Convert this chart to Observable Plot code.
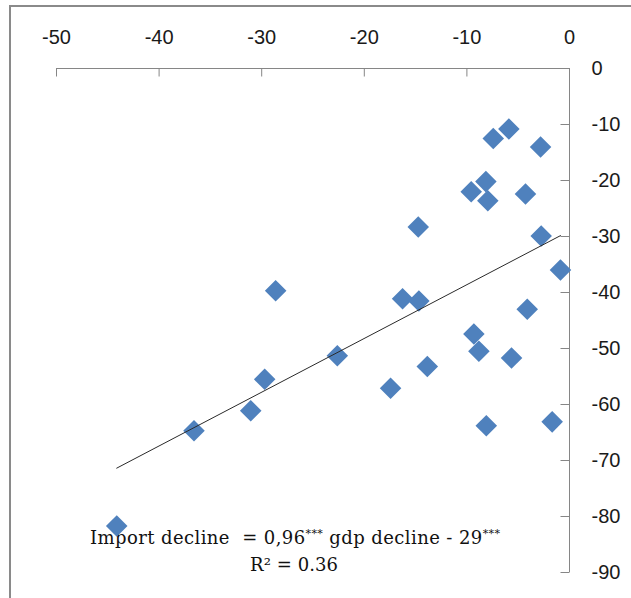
<!DOCTYPE html>
<html>
<head>
<meta charset="utf-8">
<script src="https://cdn.jsdelivr.net/npm/d3@7"></script>
<script src="https://cdn.jsdelivr.net/npm/@observablehq/plot@0.6"></script>
<style>
  html, body { margin: 0; padding: 0; background: #fff; }
  svg { display: block; }
</style>
</head>
<body>
<div id="chart"></div>
<script>
// ---- data ----
const gdpDecline = [-5.91, -7.43, -2.82, -8.15, -9.58, -7.96, -4.29, -14.74, -2.76, -0.88,
  -16.27, -14.68, -4.12, -9.32, -8.83, -5.65, -13.86, -17.44, -28.64, -22.63,
  -29.71, -31.07, -36.6, -44.13, -8.11, -1.69];
const importDecline = [-10.8, -12.5, -14.0, -20.2, -22.0, -23.6, -22.4, -28.3, -29.9, -36.0,
  -41.1, -41.5, -43.0, -47.4, -50.5, -51.7, -53.2, -57.1, -39.7, -51.3,
  -55.5, -61.1, -64.7, -81.7, -63.8, -63.1];
const xTicks = [-50, -40, -30, -20, -10, 0];
const yTicks = [0, -10, -20, -30, -40, -50, -60, -70, -80, -90];
const slope = 0.96;
const intercept = -29;
const eqParts = ["Import decline  = 0,96", "***", " gdp decline - 29", "***"];
const r2Text = "R\u00B2 = 0.36";

// ---- derived tables ----
const points = gdpDecline.map((x, i) => ({x, y: importDecline[i]}));
const xExt = d3.extent(gdpDecline);
const trend = xExt.map(x => ({x, y: slope * x + intercept}));

const axisColor = "#868686";
const labelFont = "'Liberation Sans', Arial, sans-serif";
const tickShape = {draw(context, l) { context.moveTo(0, 0); context.lineTo(0, -l); }};

const plot = Plot.plot({
  width: 631,
  height: 598,
  marginLeft: 56,
  marginRight: 62,
  marginTop: 68,
  marginBottom: 26,
  x: {domain: [xTicks[0], xTicks[xTicks.length - 1]], axis: null},
  y: {domain: [yTicks[yTicks.length - 1], yTicks[0]], axis: null},
  style: {background: "white", overflow: "visible"},
  marks: [
    Plot.ruleY([yTicks[0]], {x1: xTicks[0], x2: xTicks[xTicks.length - 1], stroke: axisColor, strokeWidth: 1}),
    Plot.ruleX([xTicks[xTicks.length - 1]], {y1: yTicks[yTicks.length - 1], y2: yTicks[0], stroke: axisColor, strokeWidth: 1}),
    Plot.vector(xTicks.filter(d => d < 0), {x: d => d, y: yTicks[0], length: 8, rotate: 180, anchor: "start",
      shape: tickShape, stroke: axisColor, strokeWidth: 1, strokeLinecap: "butt"}),
    Plot.vector(yTicks.filter(d => d < 0), {x: xTicks[xTicks.length - 1], y: d => d, length: 9, rotate: 270, anchor: "start",
      shape: tickShape, stroke: axisColor, strokeWidth: 1, strokeLinecap: "butt"}),
    Plot.text(xTicks, {x: d => d, y: yTicks[0], dy: -31, text: d => String(d),
      fontSize: 20, fontFamily: labelFont, fill: "#1a1a1a", textAnchor: "middle"}),
    Plot.text(yTicks, {x: xTicks[xTicks.length - 1], y: d => d, dx: 22, text: d => String(d),
      fontSize: 20, fontFamily: labelFont, fill: "#1a1a1a", textAnchor: "start"}),
    Plot.dot(points, {x: "x", y: "y", symbol: "diamond2", r: 9.7, fill: "#4F81BD", stroke: "none"}),
    Plot.line(trend, {x: "x", y: "y", stroke: "#2a2a2a", strokeWidth: 1})
  ]
});

document.getElementById("chart").appendChild(plot);

// ---- chart-area border and regression annotation (drawn underneath the marks) ----
const svg = d3.select(plot);
const under = svg.insert("g", ":first-child");
under.append("rect")
  .attr("x", 10).attr("y", 6).attr("width", 700).attr("height", 700)
  .attr("fill", "none").attr("stroke", "#8a8a8a").attr("stroke-width", 2);

const serif = "'DejaVu Serif', 'Liberation Serif', serif";
const eq = under.append("text")
  .attr("x", 295).attr("y", 543.5)
  .attr("text-anchor", "middle")
  .attr("font-family", serif).attr("font-size", 18).attr("fill", "#111")
  .attr("textLength", 410).attr("lengthAdjust", "spacing");
eqParts.forEach((s, i) => {
  const sup = s === "***";
  eq.append("tspan").text(s)
    .attr("font-size", sup ? 11 : 18)
    .attr("dy", sup ? -7 : (i > 0 ? 7 : 0));
});
under.append("text")
  .attr("x", 294).attr("y", 570.5)
  .attr("text-anchor", "middle")
  .attr("font-family", serif).attr("font-size", 18).attr("fill", "#111")
  .attr("textLength", 88).attr("lengthAdjust", "spacing")
  .text(r2Text);
</script>
</body>
</html>
